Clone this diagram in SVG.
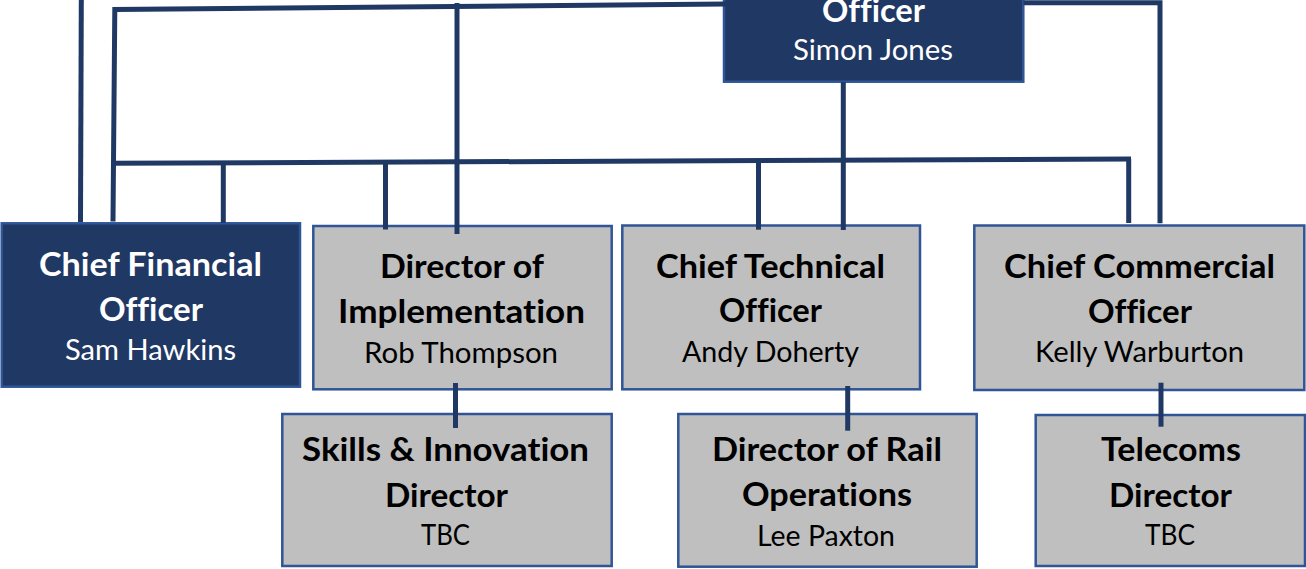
<svg xmlns="http://www.w3.org/2000/svg" width="1306" height="569" viewBox="0 0 1306 569">
<style>
.dark{fill:#203864;stroke:#2F5597;stroke-width:2.5}
.grey{fill:#BFBFBF;stroke:#2F5597;stroke-width:2.5}
.ln{stroke:#203864;stroke-width:5;fill:none;stroke-linecap:butt}
text{font-family:Lato,"Open Sans","Liberation Sans",sans-serif;text-anchor:middle;font-variant-ligatures:none;font-feature-settings:"liga" 0,"dlig" 0}
.t{font-size:32px;font-weight:bold}
.n{font-size:28px}
.w{fill:#FFFFFF}
.k{fill:#000000}
</style>
<rect width="1306" height="569" fill="#FFFFFF"/>
<g id="ceo">
<rect class="dark" x="724" y="-10" width="299.3" height="91.7"/>
<text class="t w" x="873.5" y="21.7" textLength="103" lengthAdjust="spacingAndGlyphs">Officer</text>
<text class="n w" x="873" y="60" textLength="160" lengthAdjust="spacingAndGlyphs">Simon Jones</text>
</g>
<g id="cfo">
<rect class="dark" x="1.7" y="223.3" width="298.3" height="163.4"/>
<text class="t w" x="150.5" y="275.5" textLength="223" lengthAdjust="spacingAndGlyphs">Chief Financial</text>
<text class="t w" x="151" y="321" textLength="104" lengthAdjust="spacingAndGlyphs">Officer</text>
<text class="n w" x="150.5" y="359.5" textLength="171" lengthAdjust="spacingAndGlyphs">Sam Hawkins</text>
</g>
<g id="doi">
<rect class="grey" x="313.3" y="226" width="298.4" height="163.3"/>
<text class="t k" x="462" y="278.3" textLength="164" lengthAdjust="spacingAndGlyphs">Director of</text>
<text class="t k" x="461.5" y="322.7" textLength="247" lengthAdjust="spacingAndGlyphs">Implementation</text>
<text class="n k" x="461" y="362.7" textLength="194" lengthAdjust="spacingAndGlyphs">Rob Thompson</text>
</g>
<g id="cto">
<rect class="grey" x="622.3" y="225.5" width="297.7" height="163.8"/>
<text class="t k" x="770.5" y="277.5" textLength="229" lengthAdjust="spacingAndGlyphs">Chief Technical</text>
<text class="t k" x="770.5" y="321.7" textLength="103" lengthAdjust="spacingAndGlyphs">Officer</text>
<text class="n k" x="770.5" y="361.7" textLength="177" lengthAdjust="spacingAndGlyphs">Andy Doherty</text>
</g>
<g id="cco">
<rect class="grey" x="974.3" y="225.5" width="330" height="164.5"/>
<text class="t k" x="1139.5" y="278.3" textLength="271" lengthAdjust="spacingAndGlyphs">Chief Commercial</text>
<text class="t k" x="1140" y="322.7" textLength="104" lengthAdjust="spacingAndGlyphs">Officer</text>
<text class="n k" x="1139.5" y="362.3" textLength="209" lengthAdjust="spacingAndGlyphs">Kelly Warburton</text>
</g>
<g id="skills">
<rect class="grey" x="282.3" y="414" width="329.4" height="152"/>
<text class="t k" x="445.5" y="461" textLength="287" lengthAdjust="spacingAndGlyphs">Skills &amp; Innovation</text>
<text class="t k" x="446.5" y="506.7" textLength="123" lengthAdjust="spacingAndGlyphs">Director</text>
<text class="n k" x="445.5" y="545" textLength="49" lengthAdjust="spacingAndGlyphs">TBC</text>
</g>
<g id="rail">
<rect class="grey" x="678.3" y="414" width="298.4" height="152.7"/>
<text class="t k" x="827" y="461" textLength="230" lengthAdjust="spacingAndGlyphs">Director of Rail</text>
<text class="t k" x="827" y="506" textLength="170" lengthAdjust="spacingAndGlyphs">Operations</text>
<text class="n k" x="826" y="545.7" textLength="138" lengthAdjust="spacingAndGlyphs">Lee Paxton</text>
</g>
<g id="telecoms">
<rect class="grey" x="1035.7" y="415" width="269.3" height="151"/>
<text class="t k" x="1171" y="461" textLength="140" lengthAdjust="spacingAndGlyphs">Telecoms</text>
<text class="t k" x="1170.5" y="506.7" textLength="123" lengthAdjust="spacingAndGlyphs">Director</text>
<text class="n k" x="1170" y="545" textLength="50" lengthAdjust="spacingAndGlyphs">TBC</text>
</g>
<g id="connectors">
<line class="ln" x1="81.3" y1="0" x2="80.5" y2="222"/>
<polyline class="ln" points="113,221.5 114.8,9.5 726,4"/>
<line class="ln" x1="457" y1="3" x2="457" y2="234"/>
<line class="ln" x1="111" y1="163.3" x2="1131" y2="159"/>
<line class="ln" x1="223.3" y1="163" x2="223.3" y2="223"/>
<line class="ln" x1="385.5" y1="162.5" x2="385.5" y2="229.5"/>
<line class="ln" x1="758.5" y1="163" x2="758.5" y2="229.7"/>
<polyline class="ln" points="1128.7,223 1128.7,159"/>
<line class="ln" x1="843.3" y1="82" x2="843.3" y2="230"/>
<polyline class="ln" points="1023.5,2.8 1160,2.8 1160,223.3"/>
<line class="ln" x1="455.5" y1="383" x2="455.5" y2="428"/>
<line class="ln" x1="847.7" y1="386" x2="847.7" y2="430.7"/>
<line class="ln" x1="1161" y1="382.7" x2="1161" y2="426.7"/>
</g>
</svg>
